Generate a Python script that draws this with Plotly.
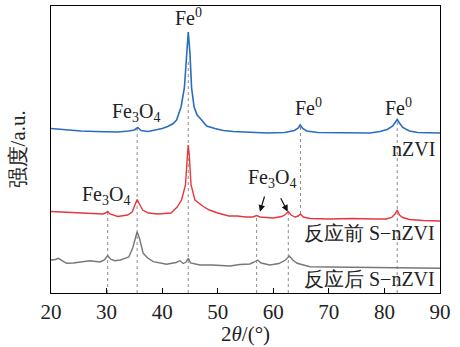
import plotly.graph_objects as go

# 2theta (deg) and intensity (a.u., offset)
blue_x = [20, 22, 25.4, 28, 32, 34, 35.0, 35.6, 36.2, 37.5, 40, 41, 42, 42.6, 43.4, 44.0, 44.42, 44.7,
          45.0, 45.3, 45.75, 46.3, 47.1, 48, 49.5, 51, 52.8, 56, 58.9, 62, 63.8, 64.5, 64.85, 65.3, 66,
          68, 72, 77.4, 79.2, 80.5, 81.5, 82.0, 82.3, 82.7, 83.3, 84.5, 86, 90]
blue_y = [164.5, 163.5, 162, 161.5, 161, 162, 163, 165.5, 162.5, 161.5, 164.5, 166.5, 169.5, 173, 186,
          205, 240, 261, 240, 205, 186, 178, 173, 167, 164.5, 162.5, 161.5, 160.5, 160, 160.5, 162.5,
          165, 168, 164.5, 162, 160.5, 160, 160, 161.5, 163.5, 167, 171, 173.5, 170, 165.5, 162, 160.5, 160]

red_x = [20, 22, 24, 26, 28, 29.3, 29.8, 30.2, 30.6, 32, 33.8, 34.6, 35.1, 35.5, 35.9, 36.5, 37.5, 39.2,
         41.6, 42.7, 43.5, 44.2, 44.55, 44.7, 44.88, 45.2, 45.9, 47.4, 48.5, 50, 52, 53.5, 55, 56.3, 57.0,
         57.6, 60, 61.5, 62.2, 62.7, 63.2, 63.9, 64.5, 64.9, 65.4, 66.6, 70, 74.3, 78, 80.3, 81.3, 81.9,
         82.3, 82.7, 83.3, 84.5, 87, 90]
red_y = [81.5, 81, 80.5, 80.5, 79.5, 79, 80, 81.5, 79, 76.5, 78, 81, 88, 93.5, 89, 83, 80, 79,
         80, 86, 93, 108, 138, 148, 138, 108, 93, 86.5, 83, 80, 77, 77, 76, 76, 77.5,
         76, 75, 76.5, 78.5, 81.5, 78, 76, 77, 79, 76, 74.5, 74, 74.5, 74, 74, 75.5, 79,
         83, 78, 75.5, 73.5, 72.5, 72]

gray_x = [20, 20.8, 21.3, 22.0, 22.8, 24, 25.5, 27, 28.8, 29.6, 30.2, 30.8, 31.5, 32.5, 33.3, 34.0, 34.7,
          35.2, 35.5, 35.9, 36.6, 37.4, 38.4, 40.8, 42.5, 43.2, 43.8, 44.3, 44.7, 45.1, 46.8, 49, 52.2,
          54, 55.8, 56.6, 57.2, 57.8, 59.4, 61, 62.2, 62.9, 63.5, 64.3, 66.6, 70.2, 76.1, 82, 86, 90]
gray_y = [33, 33.5, 34.7, 32, 29.7, 30, 31, 32.3, 31, 33, 37.3, 33.5, 32.3, 33, 34.7, 36, 45,
          56, 61.3, 55, 39.7, 35, 31.3, 28.7, 30.5, 32.3, 29.5, 31, 34.7, 30, 28, 28, 27,
          28.5, 29, 31, 33, 30, 28, 29.5, 33, 37, 33, 29.7, 26.3, 26, 25.7, 25.5, 25, 24.7]

# reference peak positions (dotted guide lines)
ref_x = [30.2, 35.5, 44.7, 57.0, 62.7, 64.9, 82.3]
ref_bottom = [0, 0, 0, 0, 0, 79, 0]
ref_top = [81.5, 165.5, 232, 77.5, 81.5, 168, 173.5]

FONT = "'Times New Roman', 'Liberation Serif', serif"

fig = go.Figure()

gx, gy = [], []
for x, b, t in zip(ref_x, ref_bottom, ref_top):
    gx += [x, x, None]
    gy += [b, t, None]
fig.add_trace(go.Scatter(x=gx, y=gy, mode="lines",
                         line=dict(color="#8c8c8c", width=1, dash="dot"),
                         hoverinfo="skip", showlegend=False))

fig.add_trace(go.Scatter(x=gray_x, y=gray_y, mode="lines",
                         line=dict(color="#777777", width=1.4), showlegend=False))
fig.add_trace(go.Scatter(x=red_x, y=red_y, mode="lines",
                         line=dict(color="#e5373e", width=1.4), showlegend=False))
fig.add_trace(go.Scatter(x=blue_x, y=blue_y, mode="lines",
                         line=dict(color="#2b6cbd", width=1.6), showlegend=False))

fs = 20
labels = [
    (44.75, 276, "Fe<sup>0</sup>", "center"),
    (35.3, 181, "Fe<sub>3</sub>O<sub>4</sub>", "center"),
    (66.4, 186, "Fe<sup>0</sup>", "center"),
    (82.6, 186, "Fe<sup>0</sup>", "center"),
    (89.4, 144, "nZVI", "right"),
    (29.9, 98, "Fe<sub>3</sub>O<sub>4</sub>", "center"),
    (59.8, 115, "Fe<sub>3</sub>O<sub>4</sub>", "center"),
    (89.4, 60, "反应前 S−nZVI", "right"),
    (89.4, 14, "反应后 S−nZVI", "right"),
]
for x, y, t, anc in labels:
    fig.add_annotation(x=x, y=y, text=t, showarrow=False, xanchor=anc, yanchor="middle",
                       font=dict(family=FONT, size=fs, color="#222222"))

# arrows
for (tx, ty, hx, hy) in [(58.5, 98, 57.6, 81.3), (61.2, 96.3, 62.6, 81.3)]:
    fig.add_annotation(x=hx, y=hy, ax=tx, ay=ty, axref="x", ayref="y", xref="x", yref="y",
                       text="", showarrow=True, arrowhead=2, arrowsize=1.1, arrowwidth=1.2,
                       arrowcolor="#111111")

fig.add_annotation(xref="paper", yref="paper", x=0.499, y=-0.143, text="2<i>θ</i>/(°)",
                   showarrow=False, xanchor="center", yanchor="middle",
                   font=dict(family=FONT, size=21, color="#222222"))
fig.add_annotation(xref="paper", yref="paper", x=-0.085, y=0.5, text="强度/a.u.",
                   showarrow=False, xanchor="center", yanchor="middle", textangle=-90,
                   font=dict(family=FONT, size=21, color="#222222"))

fig.update_layout(
    width=460, height=347,
    margin=dict(l=51, r=20, t=6, b=54),
    paper_bgcolor="white", plot_bgcolor="white",
    font=dict(family=FONT, size=20, color="#222222"),
    showlegend=False,
)
fig.update_xaxes(range=[20, 90], tickvals=[20, 30, 40, 50, 60, 70, 80, 90],
                 ticks="inside", ticklen=5, tickwidth=1, tickcolor="black",
                 showline=True, linecolor="black", linewidth=1.2, mirror=True,
                 showgrid=False, zeroline=False,
                 tickfont=dict(family=FONT, size=21, color="#222222"))
fig.update_yaxes(range=[0, 287], showticklabels=False, ticks="",
                 showline=True, linecolor="black", linewidth=1.2, mirror=True,
                 showgrid=False, zeroline=False)

fig.write_html("out.html")
